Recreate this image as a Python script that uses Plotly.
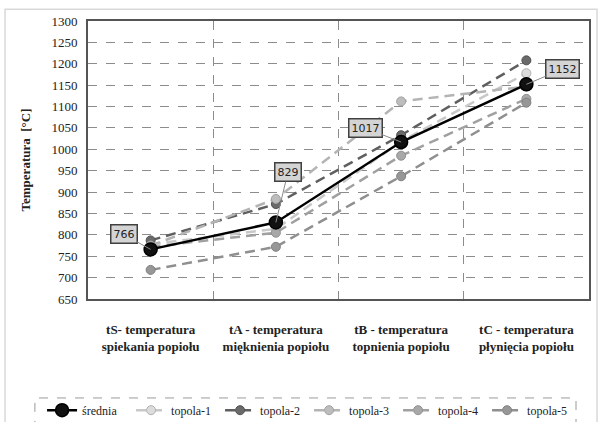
import plotly.graph_objects as go

categories = ["tS- temperatura<br>spiekania popiołu",
              "tA - temperatura<br>mięknienia popiołu",
              "tB - temperatura<br>topnienia popiołu",
              "tC - temperatura<br>płynięcia popiołu"]
srednia = [766, 829, 1017, 1152]
topola_1 = [778, 814, 1018, 1178]
topola_2 = [787, 872, 1033, 1208]
topola_3 = [775, 884, 1112, 1147]
topola_4 = [772, 805, 985, 1118]
topola_5 = [718, 772, 937, 1109]
y_ticks = list(range(650, 1301, 50))

xs = list(range(len(categories)))
SERIF = "Liberation Serif"

fig = go.Figure()

series = [
    ("topola-1", topola_1, "#c8c8c8", "#dcdcdc", "#b0b0b0"),
    ("topola-2", topola_2, "#5f5f5f", "#6a6a6a", "#505050"),
    ("topola-3", topola_3, "#b4b4b4", "#bdbdbd", "#a0a0a0"),
    ("topola-4", topola_4, "#a0a0a0", "#a8a8a8", "#909090"),
    ("topola-5", topola_5, "#8f8f8f", "#979797", "#808080"),
]
for i, (name, vals, lc, fc, oc) in enumerate(series):
    fig.add_trace(go.Scatter(
        x=xs, y=vals, name=name, mode="lines+markers",
        line=dict(color=lc, width=2.5, dash="10px,6px"),
        marker=dict(size=9, color=fc, line=dict(color=oc, width=1)),
        legendrank=i + 2,
    ))

fig.add_trace(go.Scatter(
    x=xs, y=srednia, name="średnia", mode="lines+markers",
    line=dict(color="#000000", width=2.5),
    marker=dict(size=13, color="#111111", line=dict(color="#000000", width=1.5)),
    legendrank=1,
))

# invisible trace for boundary gridlines on overlay axis
fig.add_trace(go.Scatter(x=[0.5], y=[None], xaxis="x2", showlegend=False,
                         hoverinfo="skip"))

offsets = [(-27, -15), (12, -50), (-36, -14), (36, -15)]
for x, v, (ax, ay) in zip(xs, srednia, offsets):
    fig.add_annotation(
        x=x, y=v, text=str(v), showarrow=True, arrowhead=0, arrowwidth=1,
        arrowcolor="#8a8a8a", ax=ax, ay=ay,
        font=dict(family="DejaVu Sans", size=11, color="#222"),
        bgcolor="#d4d4d4", bordercolor="#404040", borderwidth=1.5, borderpad=2,
    )

# paper spans x 36..589 px (553 px); plot area starts at 88 px
fig.update_layout(
    width=601, height=422,
    margin=dict(l=36, r=12, t=21, b=123, autoexpand=False),
    paper_bgcolor="white", plot_bgcolor="white",
    font=dict(family=SERIF, color="#222"),
    showlegend=True,
    legend=dict(orientation="h", xref="container", x=0.07, xanchor="left",
                yref="container", y=0.028, yanchor="middle",
                font=dict(family=SERIF, size=12, color="#222"),
                bgcolor="rgba(0,0,0,0)", entrywidth=44, entrywidthmode="pixels",
                itemwidth=30),
    xaxis=dict(domain=[52 / 553, 1], range=[-0.5, 3.5], tickvals=xs,
               ticktext=categories,
               showgrid=False, zeroline=False, ticks="", automargin=False,
               tickfont=dict(family=SERIF, size=13, color="#222", weight="bold"),
               ticklabelstandoff=17,
               showline=True, linecolor="#555", linewidth=2, mirror=True),
    xaxis2=dict(domain=[52 / 553, 1], range=[-0.5, 3.5], overlaying="x",
                tickvals=[0.5, 1.5, 2.5],
                showticklabels=False, showgrid=True, gridcolor="#8c8c8c",
                griddash="dash", gridwidth=1, zeroline=False, ticks=""),
    yaxis=dict(range=[650, 1300], tickvals=y_ticks, showgrid=True,
               gridcolor="#8c8c8c", griddash="dash", gridwidth=1,
               zeroline=False, ticks="", automargin=False,
               ticklabelstandoff=6,
               tickfont=dict(family=SERIF, size=13, color="#222"),
               title=dict(text="Temperatura  [°C]", standoff=18,
                          font=dict(family=SERIF, size=13, color="#222",
                                    weight="bold")),
               showline=True, linecolor="#555", linewidth=2, mirror=True),
)

# legend dashed frame and outer chart frame
fig.add_shape(type="rect", xref="paper", yref="paper",
              x0=-0.002, x1=0.9765, y0=-0.46, y1=-0.356,
              line=dict(color="#9a9a9a", width=1, dash="dash"), layer="below")
fig.add_shape(type="rect", xref="paper", yref="paper",
              x0=-0.056, x1=1.0145, y0=-0.5, y1=1.042,
              line=dict(color="#d9d9d9", width=1.5), layer="below")

fig.write_html("out.html")
